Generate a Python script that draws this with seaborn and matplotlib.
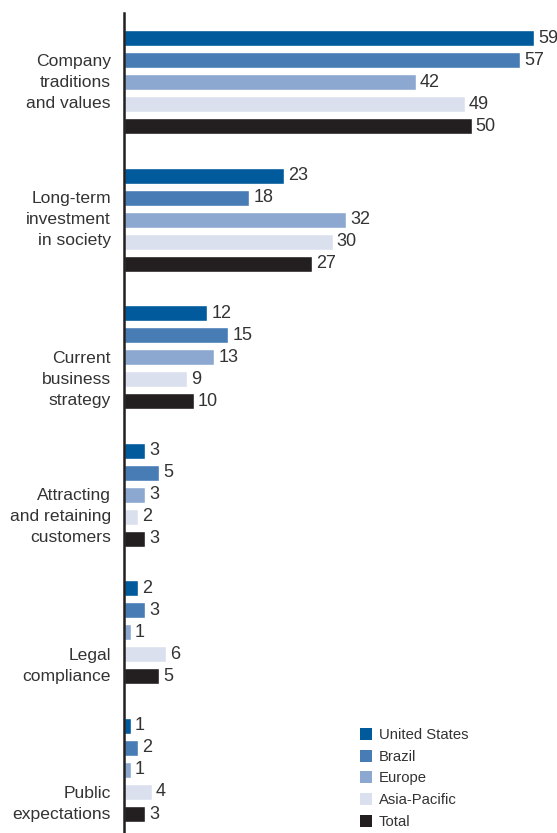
import matplotlib
matplotlib.use("Agg")
import matplotlib.pyplot as plt
from matplotlib.lines import Line2D
import seaborn as sns
import pandas as pd

# Survey answers (% of respondents) by region
categories = [
    "Company\ntraditions\nand values",
    "Long-term\ninvestment\nin society",
    "Current\nbusiness\nstrategy",
    "Attracting\nand retaining\ncustomers",
    "Legal\ncompliance",
    "Public\nexpectations",
]
regions = ["United States", "Brazil", "Europe", "Asia-Pacific", "Total"]
united_states = [59, 23, 12, 3, 2, 1]
brazil = [57, 18, 15, 5, 3, 2]
europe = [42, 32, 13, 3, 1, 1]
asia_pacific = [49, 30, 9, 2, 6, 4]
total = [50, 27, 10, 3, 5, 3]

series = [united_states, brazil, europe, asia_pacific, total]
colors = ["#005a9c", "#477cb5", "#8ca8d0", "#dae0ee", "#231f20"]
text_color = "#333333"

df = pd.DataFrame(
    [
        {"category": c, "region": r, "value": v}
        for r, vals in zip(regions, series)
        for c, v in zip(categories, vals)
    ]
)

sns.set_theme(style="white")
plt.rcParams["font.family"] = ["Liberation Sans", "DejaVu Sans"]

fig = plt.figure(figsize=(5.57, 8.33), dpi=100)
ax = fig.add_axes([124 / 557, 0.0, 1 - 124 / 557, 1 - 12.7 / 833])

sns.barplot(
    data=df, y="category", x="value", hue="region",
    order=categories, hue_order=regions, palette=colors,
    orient="h", width=0.8, gap=0.27, saturation=1, ax=ax, legend=False,
)

for cont in ax.containers:
    ax.bar_label(cont, padding=3, fontsize=13, color=text_color)

ax.set_xlim(0, 62.3)
ax.set_ylim(5.458, -0.504)

# category labels sit a little lower in the groups further down the list
label_shift = [0.0, 0.0, 0.16, 0.16, 0.245, 0.245]
ax.set_yticks([i + s for i, s in enumerate(label_shift)])
ax.set_yticklabels(categories, fontsize=12.6, color=text_color,
                   linespacing=1.5, ha="right", va="center")
ax.tick_params(axis="y", length=0, pad=9.5)
ax.set_xticks([])
ax.set_xlabel("")
ax.set_ylabel("")

for side in ["top", "right", "bottom"]:
    ax.spines[side].set_visible(False)
ax.spines["left"].set_color("#231f20")
ax.spines["left"].set_linewidth(1.8)

handles = [
    Line2D([], [], marker="s", linestyle="none", markersize=8,
           markerfacecolor=c, markeredgewidth=0)
    for c in colors
]
leg = ax.legend(
    handles, regions, loc="upper left",
    bbox_to_anchor=(360 / 557, 1 - 728 / 833), bbox_transform=fig.transFigure,
    frameon=False, fontsize=10.7, handlelength=0.8, handletextpad=0.45,
    labelspacing=0.52, borderpad=0, borderaxespad=0,
)
for t in leg.get_texts():
    t.set_color(text_color)

fig.savefig("out.png", dpi=100)
